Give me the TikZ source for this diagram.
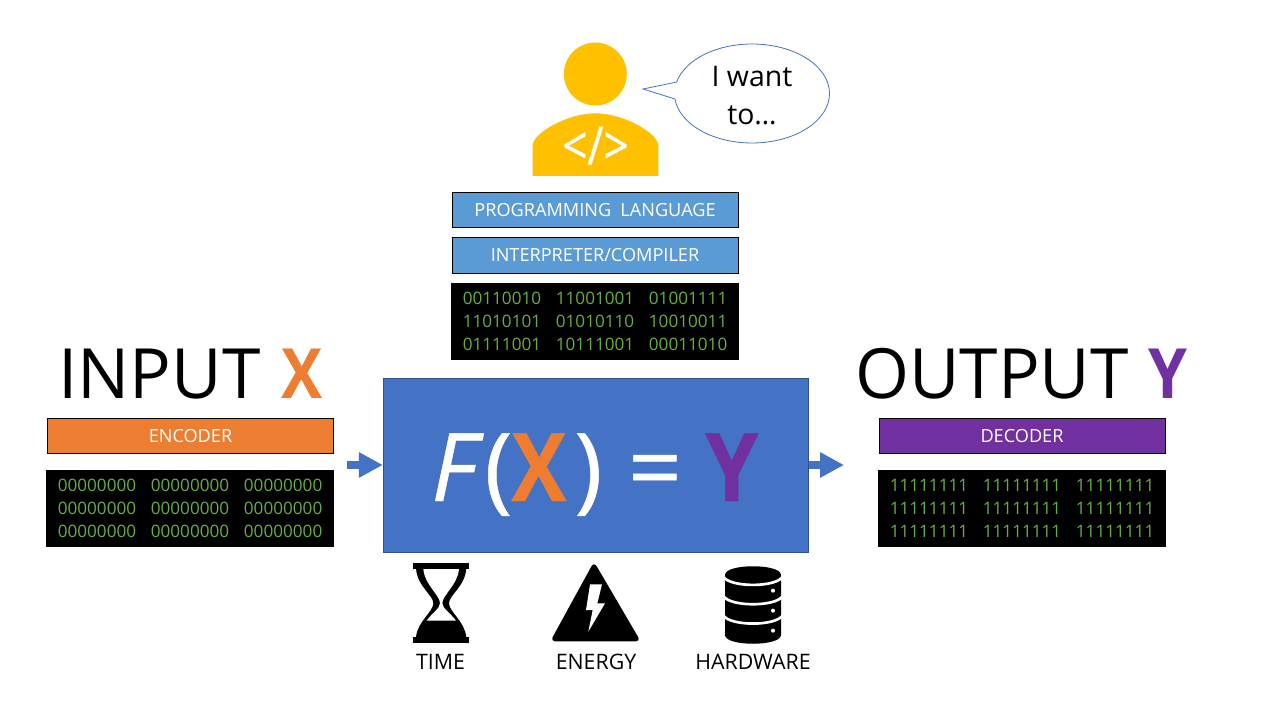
\documentclass[tikz,border=0pt]{standalone}
\usepackage{fontspec}
\usepackage{graphicx}
\setmainfont{Open Sans}
\usetikzlibrary{shapes.geometric,arrows.meta,calc}
\definecolor{cblue}{HTML}{5B9BD5}
\definecolor{cmain}{HTML}{4472C4}
\definecolor{cedge}{HTML}{2F528F}
\definecolor{corange}{HTML}{ED7D31}
\definecolor{cpurple}{HTML}{7030A0}
\definecolor{cgreen}{HTML}{66AE3E}
\definecolor{cyellow}{HTML}{FFC000}
\tikzset{
  x=0.75pt,y=-0.75pt,
  labelbox/.style={draw=black,line width=0.6pt,text=white,inner sep=0pt,minimum width=214.5pt,minimum height=26.5pt,font=\fontsize{13.6}{15}\selectfont},
  binbox/.style={fill=black,text=cgreen,inner sep=0pt,minimum width=216pt,minimum height=57.75pt,align=center,font=\fontsize{12.85}{17}\selectfont},
  title/.style={anchor=base west,inner sep=0pt,font=\fontsize{52}{60}\selectfont},
  caption/.style={anchor=base,inner sep=0pt,font=\fontsize{16}{18}\selectfont},
  blockarrow/.style={cmain,line width=6pt,-{Triangle[length=18pt,width=18pt]},shorten >=0pt},
}
\newcommand{\bingap}{\hspace{11pt}}
\newcommand{\binrow}[3]{#1\bingap #2\bingap #3}
\newcommand{\narrowbf}[2]{\scalebox{#1}[1]{\textbf{#2}}}
\begin{document}
\begin{tikzpicture}
\useasboundingbox (0,0) rectangle (1280,720);
\fill[white] (0,0) rectangle (1280,720);

% person
\begin{scope}[shift={(520,30)},x=0.25pt,y=-0.25pt]
  \fill[cyellow] (226,132) circle (23.6pt);
  \fill[cyellow] (38,438) -- (38,345) .. controls (40,310) and (140,250) .. (226,250)
     .. controls (312,250) and (413,310) .. (415,345) -- (415,438) -- cycle;
\end{scope}
\node[text=white,inner sep=0pt,font=\fontsize{34}{40}\selectfont\addfontfeature{FakeBold=0.6}] (code) at (595.5,145.5) {\scalebox{0.97}[1.17]{</>}};

% speech bubble
\node[ellipse,draw=cmain,line width=0.6pt,fill=white,inner sep=0pt,minimum width=116.25pt,minimum height=74.25pt] (bubble) at (752,93.5) {};
\node[inner sep=0pt,align=center,font=\fontsize{21.3}{28.5}\selectfont] (bubbletext) at (bubble.center) [yshift=-1.2pt] {I want\\to…};
\coordinate (tailA) at (677,82);
\coordinate (tailB) at (675,99);
\coordinate (tailTip) at (643,89);
\fill[white] (tailA) -- (tailTip) -- (tailB) -- (680,99) -- (680,82) -- cycle;
\draw[cmain,line width=0.6pt,line join=miter] (tailA) -- (tailTip) -- (tailB);

% stack
\node[labelbox,fill=cblue] (lang) at (595,210) {PROGRAMMING\hspace{0.25em} LANGUAGE};
\node[labelbox,fill=cblue] (comp) at (595,255.5) {INTERPRETER/COMPILER};
\node[binbox] (binmid) at (595,321.5) {\binrow{00110010}{11001001}{01001111}\\\binrow{11010101}{01010110}{10010011}\\\binrow{01111001}{10111001}{00011010}};

% function box
\node[draw=cedge,line width=0.75pt,fill=cmain,inner sep=0pt,minimum width=318.5pt,minimum height=130.5pt] (fn) at (595.7,465) {};
\node[anchor=base west,inner sep=0pt,text=white,font=\fontsize{71}{80}\selectfont] (fnlabel) at (431,501) {\addfontfeature{FakeBold=0.5}\textit{F}\hspace{0.5pt}(\hspace{-0.75pt}\narrowbf{0.87}{\textcolor{corange}{X}}\hspace{6pt})\hspace{19.2pt}=\hspace{17.3pt}\narrowbf{0.9}{\textcolor{cpurple}{Y}}};

% input
\node[title] (inlabel) at (58,398) {INPUT\hspace{2.5pt} \narrowbf{0.89}{\textcolor{corange}{X}}};
\node[labelbox,fill=corange] (enc) at (190.5,436) {ENCODER};
\node[binbox] (binin) at (190,508.5) {\binrow{00000000}{00000000}{00000000}\\\binrow{00000000}{00000000}{00000000}\\\binrow{00000000}{00000000}{00000000}};

% output
\node[title] (outlabel) at (855,398) {OUTPUT\hspace{1.5pt} \narrowbf{0.9}{\textcolor{cpurple}{Y}}};
\node[labelbox,fill=cpurple] (dec) at (1022,436) {DECODER};
\node[binbox] (binout) at (1022,508.5) {\binrow{11111111}{11111111}{11111111}\\\binrow{11111111}{11111111}{11111111}\\\binrow{11111111}{11111111}{11111111}};

% arrows
\coordinate (arrIn) at (347,465);
\coordinate (arrOut) at (844,465);
\draw[blockarrow] (arrIn) -- (fn.west);
\draw[blockarrow] (fn.east) -- (arrOut);

% icons
\begin{scope}[shift={(400,555)},x=0.25pt,y=-0.25pt]
  % hourglass
  \fill[black] (40,25) rectangle (207,42);
  \fill[black] (40,245) rectangle (207,263);
  \fill[black] (48,40) .. controls (52,95) and (100,120) .. (100,145)
     .. controls (100,170) and (52,200) .. (48,247) -- (199,247)
     .. controls (195,200) and (147,170) .. (147,145)
     .. controls (147,120) and (195,95) .. (199,40) -- cycle;
  \fill[white] (70,42) .. controls (74,90) and (120,120) .. (120,145)
     .. controls (120,160) and (95,175) .. (80,197) -- (168,197)
     .. controls (152,175) and (127,160) .. (127,145)
     .. controls (127,120) and (173,90) .. (177,42) -- cycle;
  % triangle
  \fill[black,rounded corners=4pt] (582,20) -- (722,259) -- (451,259) -- cycle;
  \fill[white] (570,88) -- (606,88) -- (592,145) -- (615,145) -- (565,230) -- (578,165) -- (558,165) -- cycle;
  % database
  \fill[black] (975,60) .. controls (975,25) and (1143,25) .. (1143,60)
     -- (1143,240) .. controls (1143,275) and (975,275) .. (975,240) -- cycle;
  \foreach \y in {68,126,184} {
    \draw[white,line width=2pt] (970,\y-3) .. controls (990,\y+30) and (1128,\y+30) .. (1148,\y-3);
  }
  \foreach \y in {107,167,227} {
    \fill[white] (1119,\y) circle (1.5pt);
  }
\end{scope}
\node[caption] (time) at (440.5,669) {TIME};
\node[caption] (energy) at (596,669) {ENERGY};
\node[caption] (hw) at (753,669) {HARDWARE};
\end{tikzpicture}
\end{document}
